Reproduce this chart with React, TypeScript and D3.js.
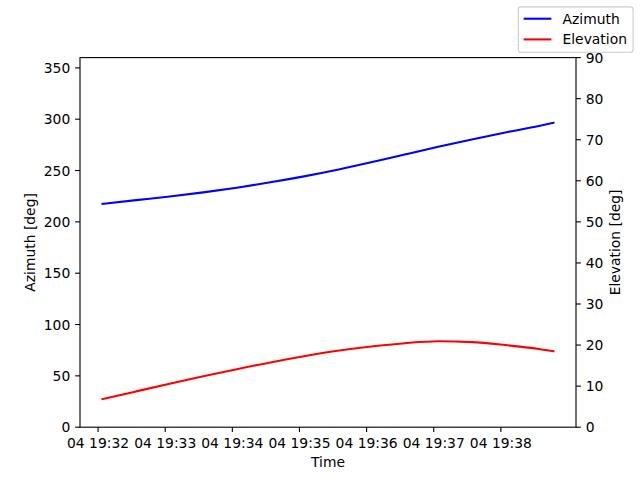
import React from "react";
import * as d3 from "d3";

const times: string[] = [
  "2024-01-04T19:32:04", "2024-01-04T19:32:34", "2024-01-04T19:33:04", "2024-01-04T19:33:34",
  "2024-01-04T19:34:04", "2024-01-04T19:34:34", "2024-01-04T19:35:04", "2024-01-04T19:35:34",
  "2024-01-04T19:36:04", "2024-01-04T19:36:34", "2024-01-04T19:37:04", "2024-01-04T19:37:34",
  "2024-01-04T19:38:04", "2024-01-04T19:38:34", "2024-01-04T19:38:47",
];
const azimuth: number[] = [217.6, 221.2, 224.7, 228.7, 233.3, 238.5, 244.3, 250.8, 258.0, 265.6, 273.1, 280.3, 287.1, 293.4, 296.5];
const elevation: number[] = [6.85, 8.72, 10.57, 12.38, 14.12, 15.78, 17.28, 18.6, 19.65, 20.45, 20.92, 20.72, 20.0, 19.05, 18.5];
const leftTicks: number[] = [0, 50, 100, 150, 200, 250, 300, 350];
const rightTicks: number[] = [0, 10, 20, 30, 40, 50, 60, 70, 80, 90];
const xTickTimes: string[] = [
  "2024-01-04T19:32:00", "2024-01-04T19:33:00", "2024-01-04T19:34:00", "2024-01-04T19:35:00",
  "2024-01-04T19:36:00", "2024-01-04T19:37:00", "2024-01-04T19:38:00",
];
const seriesNames: string[] = ["Azimuth", "Elevation"];
const seriesColors: string[] = ["#0000ff", "#ff0000"];

const W = 640, H = 480;
const L = 80, R = 576, T = 57.6, B = 427.2;
const FS = 13.89;
const FONT = "DejaVu Sans, sans-serif";

export default function App() {
  const parsed = times.map((t) => new Date(t));
  const t0 = parsed[0].getTime();
  const t1 = parsed[parsed.length - 1].getTime();
  const pad = (t1 - t0) * 0.05;
  const x = d3.scaleTime().domain([new Date(t0 - pad), new Date(t1 + pad)]).range([L, R]);
  const yL = d3.scaleLinear().domain([0, 360]).range([B, T]);
  const yR = d3.scaleLinear().domain([0, 90]).range([B, T]);
  const fmt = d3.timeFormat("%d %H:%M");

  const lineAz = d3.line<number>().x((_, i) => x(parsed[i])).y((d) => yL(d)).curve(d3.curveMonotoneX);
  const lineEl = d3.line<number>().x((_, i) => x(parsed[i])).y((d) => yR(d)).curve(d3.curveMonotoneX);

  const tickLen = 4.86;
  const lblPad = 4.86;

  return (
    <svg width={W} height={H} style={{ position: "absolute", left: 0, top: 0, background: "#fff" }} fontFamily={FONT}>
      <rect x={0} y={0} width={W} height={H} fill="#fff" />
      <path d={lineAz(azimuth) || ""} fill="none" stroke={seriesColors[0]} strokeWidth={2.08} strokeLinejoin="round" strokeLinecap="square" />
      <path d={lineEl(elevation) || ""} fill="none" stroke={seriesColors[1]} strokeWidth={2.08} strokeLinejoin="round" strokeLinecap="square" />
      <rect x={L} y={T} width={R - L} height={B - T} fill="none" stroke="#000" strokeWidth={1.11} />
      {leftTicks.map((v) => (
        <g key={"l" + v}>
          <line x1={L} x2={L - tickLen} y1={yL(v)} y2={yL(v)} stroke="#000" strokeWidth={1.11} />
          <text x={L - tickLen - lblPad} y={yL(v)} dy="0.36em" textAnchor="end" fontSize={FS}>{v}</text>
        </g>
      ))}
      {rightTicks.map((v) => (
        <g key={"r" + v}>
          <line x1={R} x2={R + tickLen} y1={yR(v)} y2={yR(v)} stroke="#000" strokeWidth={1.11} />
          <text x={R + tickLen + lblPad} y={yR(v)} dy="0.36em" textAnchor="start" fontSize={FS}>{v}</text>
        </g>
      ))}
      {xTickTimes.map((s) => {
        const d = new Date(s);
        return (
          <g key={s}>
            <line x1={x(d)} x2={x(d)} y1={B} y2={B + tickLen} stroke="#000" strokeWidth={1.11} />
            <text x={x(d)} y={447.6} textAnchor="middle" fontSize={FS}>{fmt(d)}</text>
          </g>
        );
      })}
      <text x={(L + R) / 2} y={466.7} textAnchor="middle" fontSize={FS}>Time</text>
      <text transform={`translate(35,${(T + B) / 2}) rotate(-90)`} textAnchor="middle" fontSize={FS}>Azimuth [deg]</text>
      <text transform={`translate(619.6,${(T + B) / 2}) rotate(-90)`} textAnchor="middle" fontSize={FS}>Elevation [deg]</text>
      <g>
        <rect x={518.3} y={6.9} width={114.8} height={45.3} rx={2.8} ry={2.8} fill="#fff" fillOpacity={0.8} stroke="#cccccc" strokeWidth={1.11} />
        {seriesNames.map((n, i) => {
          const cy = 18.7 + i * 20.7;
          return (
            <g key={n}>
              <line x1={523.6} x2={551.4} y1={cy} y2={cy} stroke={seriesColors[i]} strokeWidth={2.08} />
              <text x={562.5} y={cy} dy="0.36em" fontSize={FS}>{n}</text>
            </g>
          );
        })}
      </g>
    </svg>
  );
}
